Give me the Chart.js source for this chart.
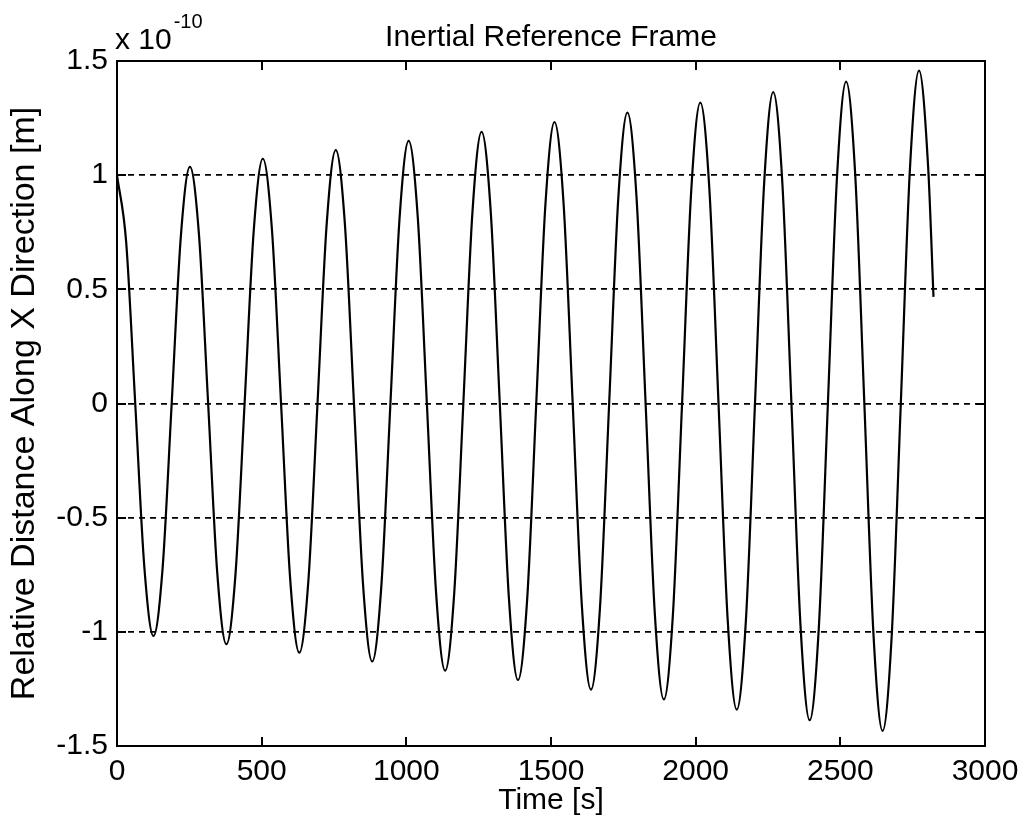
<!DOCTYPE html>
<html>
<head>
<meta charset="utf-8">
<script src="https://cdn.jsdelivr.net/npm/chart.js@4.4.1/dist/chart.umd.min.js"></script>
<style>
  html, body { margin: 0; padding: 0; background: #fff; }
</style>
</head>
<body>
<canvas id="myChart" width="1027" height="821"></canvas>
<script>
// time [s] (8 points per oscillation)
const times = [
  0, 31.5, 63, 94.5, 126, 157.5, 189, 220.5,
  252, 283.5, 315, 346.5, 378, 409.5, 441, 472.5,
  504, 535.5, 567, 598.5, 630, 661.5, 693, 724.5,
  756, 787.5, 819, 850.5, 882, 913.5, 945, 976.5,
  1008, 1039.5, 1071, 1102.5, 1134, 1165.5, 1197, 1228.5,
  1260, 1291.5, 1323, 1354.5, 1386, 1417.5, 1449, 1480.5,
  1512, 1543.5, 1575, 1606.5, 1638, 1669.5, 1701, 1732.5,
  1764, 1795.5, 1827, 1858.5, 1890, 1921.5, 1953, 1984.5,
  2016, 2047.5, 2079, 2110.5, 2142, 2173.5, 2205, 2236.5,
  2268, 2299.5, 2331, 2362.5, 2394, 2425.5, 2457, 2488.5,
  2520, 2551.5, 2583, 2614.5, 2646, 2677.5, 2709, 2740.5,
  2772, 2803.5, 2822
];

// relative distance along X, in units of 1e-10 m
const distance = [
  1.000, 0.710, 0, -0.716, -1.018, -0.723, 0, 0.729,
  1.036, 0.736, 0, -0.742, -1.054, -0.748, 0, 0.755,
  1.072, 0.762, 0, -0.768, -1.091, -0.775, 0, 0.782,
  1.110, 0.789, 0, -0.795, -1.130, -0.802, 0, 0.809,
  1.150, 0.816, 0, -0.823, -1.170, -0.831, 0, 0.838,
  1.190, 0.845, 0, -0.852, -1.211, -0.860, 0, 0.867,
  1.232, 0.875, 0, -0.882, -1.253, -0.890, 0, 0.897,
  1.274, 0.905, 0, -0.913, -1.296, -0.921, 0, 0.928,
  1.318, 0.936, 0, -0.944, -1.341, -0.952, 0, 0.960,
  1.364, 0.968, 0, -0.976, -1.387, -0.985, 0, 0.993,
  1.410, 1.001, 0, -1.010, -1.434, -1.018, 0, 1.026,
  1.458, 1.035, 0.467
];

const xTicks = [0, 500, 1000, 1500, 2000, 2500, 3000];
const xTickLabels = ['0', '500', '1000', '1500', '2000', '2500', '3000'];
const yTicks = [-1.5, -1, -0.5, 0, 0.5, 1, 1.5];
const yTickLabels = ['-1.5', '-1', '-0.5', '0', '0.5', '1', '1.5'];

const FONT = "'Liberation Sans', Arial, Helvetica, sans-serif";
Chart.defaults.font.family = FONT;
Chart.defaults.color = '#000';

// matlab style box with inward ticks + the exponent label
const matlabBox = {
  id: 'matlabBox',
  afterDraw(chart) {
    const ctx = chart.ctx;
    const a = chart.chartArea;
    const xs = chart.scales.x, ys = chart.scales.y;
    const tl = 9;
    ctx.save();
    ctx.strokeStyle = '#000';
    ctx.lineWidth = 2;
    ctx.setLineDash([]);
    ctx.strokeRect(a.left, a.top, a.right - a.left, a.bottom - a.top);
    ctx.beginPath();
    xTicks.forEach(v => {
      const px = Math.round(xs.getPixelForValue(v));
      ctx.moveTo(px, a.bottom); ctx.lineTo(px, a.bottom - tl);
      ctx.moveTo(px, a.top); ctx.lineTo(px, a.top + tl);
    });
    yTicks.forEach(v => {
      const py = Math.round(ys.getPixelForValue(v));
      ctx.moveTo(a.left, py); ctx.lineTo(a.left + tl, py);
      ctx.moveTo(a.right, py); ctx.lineTo(a.right - tl, py);
    });
    ctx.stroke();

    ctx.fillStyle = '#000';
    ctx.textAlign = 'left';
    ctx.textBaseline = 'alphabetic';
    ctx.font = '30px ' + FONT;
    ctx.fillText('x 10', a.left - 2, 49);
    const w = ctx.measureText('x 10').width;
    ctx.font = '20px ' + FONT;
    ctx.fillText('-10', a.left - 2 + w + 2, 28);
    ctx.restore();
  }
};

const data = {
  datasets: [{
    data: times.map((t, i) => ({ x: t, y: distance[i] })),
    borderColor: '#000',
    borderWidth: 2.2,
    pointRadius: 0,
    fill: false,
    cubicInterpolationMode: 'monotone'
  }]
};

const config = {
  type: 'line',
  data: data,
  options: {
    responsive: false,
    animation: false,
    layout: { padding: { left: 0, right: 42, top: 0, bottom: 0 } },
    scales: {
      x: {
        type: 'linear',
        min: 0,
        max: 3000,
        afterBuildTicks: s => { s.ticks = xTicks.map(v => ({ value: v })); },
        afterFit: s => { s.height = 75; },
        grid: { display: false, drawTicks: false },
        border: { display: false },
        ticks: {
          font: { size: 30 }, color: '#000', padding: 8, maxRotation: 0, autoSkip: false,
          callback: (v, i) => xTickLabels[i]
        },
        title: { display: true, text: 'Time [s]', font: { size: 30 }, color: '#000', padding: { top: 0, bottom: 2 } }
      },
      y: {
        type: 'linear',
        min: -1.5,
        max: 1.5,
        afterBuildTicks: s => { s.ticks = yTicks.map(v => ({ value: v })); },
        afterFit: s => { s.width = 117; },
        grid: { color: '#000', lineWidth: 1.8, drawTicks: false },
        border: { display: false, dash: [6, 5] },
        ticks: {
          font: { size: 30 }, color: '#000', padding: 9, autoSkip: false,
          callback: (v, i) => yTickLabels[i]
        },
        title: { display: true, text: 'Relative Distance Along X Direction [m]', font: { size: 34 }, color: '#000', padding: { top: 4, bottom: 0 } }
      }
    },
    plugins: {
      legend: { display: false },
      tooltip: { enabled: false },
      title: {
        display: true,
        text: 'Inertial Reference Frame',
        fullSize: false,
        color: '#000',
        font: { size: 30, weight: 'normal' },
        padding: { top: 20, bottom: 5 }
      }
    }
  },
  plugins: [matlabBox]
};

const myChart = new Chart(document.getElementById('myChart'), config);
</script>
</body>
</html>
